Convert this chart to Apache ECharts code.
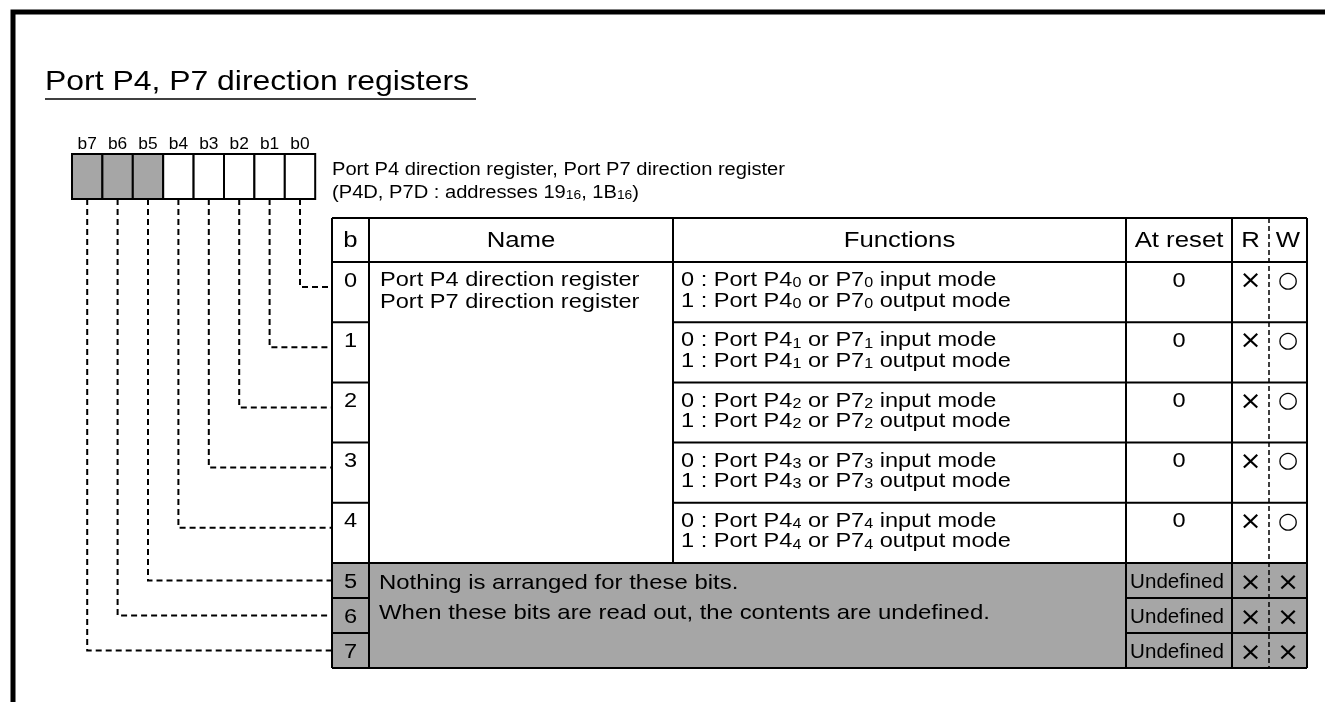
<!DOCTYPE html>
<html><head><meta charset="utf-8">
<script src="https://cdn.jsdelivr.net/npm/echarts@6/dist/echarts.min.js"></script>
<style>html,body{margin:0;padding:0;background:#fff}#c{width:1325px;height:702px}</style>
</head><body><div id="c"></div>
<script>
// ---------- data ----------
const titleText = 'Port P4, P7 direction registers';
const registerDesc = ['Port P4 direction register, Port P7 direction register',
                      '(P4D, P7D : addresses 19{s|16}, 1B{s|16})'];
const bitLabels = ['b7', 'b6', 'b5', 'b4', 'b3', 'b2', 'b1', 'b0'];
const bitReserved = [true, true, true, false, false, false, false, false];
const headers = ['b', 'Name', 'Functions', 'At reset', 'R', 'W'];
const rowBits = [0, 1, 2, 3, 4, 5, 6, 7];
const nameLines = ['Port P4 direction register', 'Port P7 direction register'];
const funcLines = [
  ['0 : Port P4{s|0} or P7{s|0} input mode', '1 : Port P4{s|0} or P7{s|0} output mode'],
  ['0 : Port P4{s|1} or P7{s|1} input mode', '1 : Port P4{s|1} or P7{s|1} output mode'],
  ['0 : Port P4{s|2} or P7{s|2} input mode', '1 : Port P4{s|2} or P7{s|2} output mode'],
  ['0 : Port P4{s|3} or P7{s|3} input mode', '1 : Port P4{s|3} or P7{s|3} output mode'],
  ['0 : Port P4{s|4} or P7{s|4} input mode', '1 : Port P4{s|4} or P7{s|4} output mode'],
  [], [], []
];
const resetValues = ['0', '0', '0', '0', '0', 'Undefined', 'Undefined', 'Undefined'];
const readMarks  = ['×', '×', '×', '×', '×', '×', '×', '×'];
const writeMarks = ['○', '○', '○', '○', '○', '×', '×', '×'];
const reservedText = ['Nothing is arranged for these bits.',
                      'When these bits are read out, the contents are undefined.'];

// ---------- layout / style ----------
const FONT = '"Liberation Sans", Arial, Helvetica, sans-serif';
const SYM = '"DejaVu Sans", sans-serif';
const GRAY = '#a6a6a6';
const L = {
  tableL: 332, colB: 369, colName: 673, colFunc: 1126, colReset: 1232, colRW: 1269, tableR: 1307,
  tableT: 218, headB: 262, rowH: 60.2, resH: 35,
  boxL: 72, boxW: 30.4, boxT: 154, boxB: 199
};
const colCenters = [350.5, 521, 899.5, 1179, 1250.5, 1288];
function rowTop(b) { return b < 5 ? L.headB + b * L.rowH : L.headB + 5 * L.rowH + (b - 5) * L.resH; }
function rowBot(b) { return rowTop(b) + (b < 5 ? L.rowH : L.resH); }

function T(api, x, y, text, o) {
  const p = api.coord([x, y]);
  const st = { x: 0, y: 0, text: text, fontSize: o.size, fontFamily: o.family || FONT, fill: '#000',
               align: o.align || 'left', verticalAlign: 'middle' };
  if (o.rich) st.rich = o.rich;
  return { type: 'text', x: p[0], y: p[1], scaleX: o.sx == null ? 1.15 : o.sx, z2: 30, style: st };
}
function Ln(api, x1, y1, x2, y2, o) {
  o = o || {};
  const a = api.coord([x1, y1]), b = api.coord([x2, y2]);
  return { type: 'line', z2: o.z2 || 20, shape: { x1: a[0], y1: a[1], x2: b[0], y2: b[1] },
           style: { stroke: '#000', lineWidth: o.w || 2, lineDash: o.dash || null } };
}
function Rc(api, x1, y1, x2, y2, o) {
  const a = api.coord([x1, y1]), b = api.coord([x2, y2]);
  return { type: 'rect', z2: o.z2 || 0, shape: { x: a[0], y: a[1], width: b[0] - a[0], height: b[1] - a[1] },
           style: { fill: o.fill || 'none', stroke: o.stroke || null, lineWidth: o.w || 0 } };
}
function subRich(sub, pad) {
  return { s: { fontSize: sub, fontFamily: FONT, padding: [pad, 0, 0, 0] } };
}

// ---------- static frame, title, description, table skeleton ----------
function renderStatic(params, api) {
  const c = [];
  c.push(Rc(api, 13, 12, 1400, 800, { stroke: '#000', w: 5, z2: 5 }));
  c.push(T(api, 45, 82, titleText, { size: 28, sx: 1.14 }));
  c.push(Ln(api, 45, 99, 476, 99, { w: 1.5 }));
  c.push(T(api, 332, 170, registerDesc[0], { size: 17.5, sx: 1.15 }));
  c.push(T(api, 332, 193, registerDesc[1], { size: 17.5, sx: 1.15, rich: subRich(12, 5) }));
  headers.forEach((h, i) => {
    c.push(T(api, colCenters[i], 241, h, { size: 22, sx: 1.17, align: 'center' }));
  });
  c.push(T(api, 380, 280.5, nameLines[0], { size: 20.5 }));
  c.push(T(api, 380, 302, nameLines[1], { size: 20.5 }));
  c.push(T(api, 379, 583, reservedText[0], { size: 21, sx: 1.14 }));
  c.push(T(api, 379, 613, reservedText[1], { size: 21, sx: 1.14 }));
  const bottom = rowBot(7);
  const resTop = rowTop(5);
  c.push(Ln(api, L.tableL, L.tableT, L.tableR, L.tableT));
  c.push(Ln(api, L.tableL, L.headB, L.tableR, L.headB));
  c.push(Ln(api, L.tableL, resTop, L.tableR, resTop));
  c.push(Ln(api, L.tableL, bottom, L.tableR, bottom));
  c.push(Ln(api, L.tableL, L.tableT, L.tableL, bottom));
  c.push(Ln(api, L.tableR, L.tableT, L.tableR, bottom));
  c.push(Ln(api, L.colB, L.tableT, L.colB, bottom));
  c.push(Ln(api, L.colName, L.tableT, L.colName, resTop));
  c.push(Ln(api, L.colFunc, L.tableT, L.colFunc, bottom));
  c.push(Ln(api, L.colReset, L.tableT, L.colReset, bottom));
  c.push(Ln(api, L.colRW, L.tableT, L.colRW, bottom, { w: 1.5, dash: [5, 3] }));
  return { type: 'group', children: c };
}

// ---------- bit boxes ----------
function renderBits(params, api) {
  const i = api.value(0);
  const x0 = L.boxL + i * L.boxW;
  const c = [];
  c.push(Rc(api, x0, L.boxT, x0 + L.boxW, L.boxB,
            { fill: bitReserved[i] ? GRAY : '#fff', stroke: '#000', w: 2, z2: 10 }));
  c.push(T(api, x0 + L.boxW / 2, 144, bitLabels[i], { size: 17, sx: 1.02, align: 'center' }));
  return { type: 'group', children: c };
}

// ---------- table rows ----------
function renderRow(params, api) {
  const b = api.value(0);
  const top = rowTop(b), bot = rowBot(b);
  const reserved = b >= 5;
  const ty = reserved ? (top + bot) / 2 + 2 : top + 19;
  const c = [];
  if (reserved) c.push(Rc(api, L.tableL, top, L.tableR, bot, { fill: GRAY, z2: 0 }));
  c.push(T(api, colCenters[0], ty, String(rowBits[b]), { size: 20.5, align: 'center' }));
  if (!reserved) {
    c.push(T(api, 681, top + 18.5, funcLines[b][0], { size: 20.5, rich: subRich(14, 6) }));
    c.push(T(api, 681, top + 39, funcLines[b][1], { size: 20.5, rich: subRich(14, 6) }));
    c.push(T(api, colCenters[3], ty, resetValues[b], { size: 20.5, align: 'center' }));
  } else {
    c.push(T(api, colCenters[3] - 2, ty, resetValues[b], { size: 21, sx: 0.98, align: 'center' }));
  }
  c.push(T(api, colCenters[4], ty + 1, readMarks[b], { size: 24, sx: 1.1, family: SYM, align: 'center' }));
  c.push(T(api, colCenters[5], ty + (reserved ? 1 : 0), writeMarks[b],
           { size: reserved ? 24 : 22, sx: reserved ? 1.1 : 1.05, family: SYM, align: 'center' }));
  if (b < 4) {
    c.push(Ln(api, L.tableL, bot, L.colB, bot));
    c.push(Ln(api, L.colName, bot, L.tableR, bot));
  } else if (b === 5 || b === 6) {
    c.push(Ln(api, L.tableL, bot, L.colB, bot));
    c.push(Ln(api, L.colFunc, bot, L.tableR, bot));
  }
  const cx = L.boxL + (7 - b) * L.boxW + L.boxW / 2;
  const ly = reserved ? (top + bot) / 2 : top + 25;
  const p1 = api.coord([cx, L.boxB]), p2 = api.coord([cx, ly]), p3 = api.coord([L.tableL, ly]);
  c.push({ type: 'polyline', z2: 15, shape: { points: [p1, p2, p3] },
           style: { stroke: '#000', lineWidth: 2, lineDash: [6, 4], fill: null } });
  return { type: 'group', children: c };
}

const chart = echarts.init(document.getElementById('c'), null, { renderer: 'canvas' });
chart.setOption({
  animation: false,
  backgroundColor: '#fff',
  grid: { left: 0, right: 0, top: 0, bottom: 0 },
  xAxis: { type: 'value', min: 0, max: 1325, show: false },
  yAxis: { type: 'value', min: 0, max: 702, inverse: true, show: false },
  series: [
    { type: 'custom', name: 'rows', renderItem: renderRow, clip: false,
      data: rowBits.map(b => [b, 0]) },
    { type: 'custom', name: 'bits', renderItem: renderBits, clip: false,
      data: bitLabels.map((l, i) => [i, 0]) },
    { type: 'custom', name: 'table', renderItem: renderStatic, clip: false, data: [[0, 0]] }
  ]
});
</script>
</body></html>
